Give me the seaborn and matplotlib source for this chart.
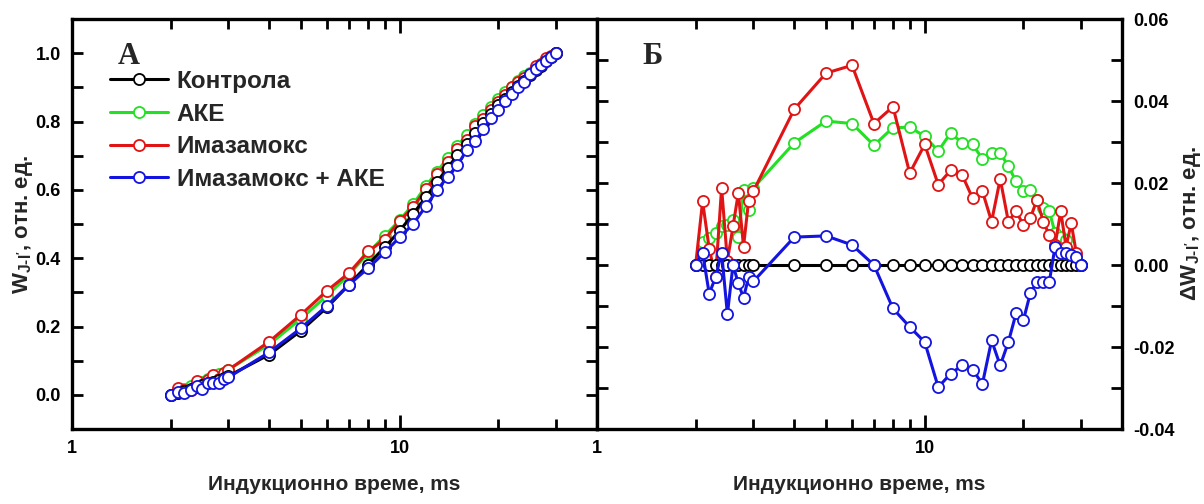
import numpy as np
import pandas as pd
import matplotlib
matplotlib.use("Agg")
import matplotlib.pyplot as plt
import seaborn as sns
from matplotlib.ticker import FixedLocator, FixedFormatter, NullFormatter, MultipleLocator, FormatStrFormatter

# Induction time, ms
time_ms = [2.0, 2.1, 2.2, 2.3, 2.4, 2.5, 2.6, 2.7, 2.8, 2.9, 3.0,
           4, 5, 6, 7, 8, 9, 10, 11, 12, 13, 14, 15, 16, 17, 18, 19, 20,
           21, 22, 23, 24, 25, 26, 27, 28, 29, 30]

# Relative variable fluorescence W(J-I') of the control
w_control = [0.000, 0.005, 0.011, 0.018, 0.023, 0.029, 0.034, 0.039, 0.043, 0.049, 0.055,
             0.118, 0.188, 0.256, 0.322, 0.381, 0.432, 0.480, 0.530, 0.578, 0.623, 0.664,
             0.701, 0.734, 0.766, 0.796, 0.822, 0.847, 0.867, 0.885, 0.904, 0.920, 0.935,
             0.950, 0.963, 0.976, 0.988, 1.000]

# Difference to the control, dW(J-I')
dw_ake = [0.0, 0.0057, 0.0065, 0.0078, 0.0094, 0.0098, 0.0110, 0.0069, 0.0184, 0.0135, 0.0188,
          0.0298, 0.0351, 0.0345, 0.0292, 0.0335, 0.0336, 0.0314, 0.0278, 0.0322, 0.0298,
          0.0294, 0.0259, 0.0273, 0.0273, 0.0241, 0.0204, 0.0180, 0.0184, 0.0159, 0.0139,
          0.0131, 0.0078, 0.0069, 0.0061, 0.0030, 0.0020, 0.0]
dw_imaz = [0.0, 0.0155, 0.0040, -0.0030, 0.0188, 0.0010, 0.0094, 0.0176, 0.0045, 0.0155, 0.0180,
           0.0380, 0.0468, 0.0487, 0.0345, 0.0386, 0.0224, 0.0294, 0.0196, 0.0231, 0.0220,
           0.0163, 0.0180, 0.0106, 0.0210, 0.0106, 0.0131, 0.0098, 0.0114, 0.0159, 0.0106,
           0.0073, 0.0049, 0.0131, 0.0045, 0.0102, 0.0030, 0.0]
dw_mix = [0.0, 0.0030, -0.0070, -0.0030, 0.0030, -0.0120, 0.0, -0.0045, -0.0080, -0.0030, -0.0040,
          0.0068, 0.0071, 0.0049, 0.0, -0.0106, -0.0151, -0.0188, -0.0298, -0.0265, -0.0245,
          -0.0255, -0.0290, -0.0184, -0.0245, -0.0188, -0.0118, -0.0135, -0.0069, -0.0041,
          -0.0041, -0.0041, 0.0045, 0.0030, 0.0030, 0.0024, 0.0020, 0.0]

series_names = ["Контрола", "АКЕ", "Имазамокс", "Имазамокс + АКЕ"]
series_colors = ["#000000", "#22e022", "#e01414", "#1414e0"]
series_z = [4, 2, 3, 5]

wc = np.array(w_control)
dws = [wc - wc, np.array(dw_ake), np.array(dw_imaz), np.array(dw_mix)]

frames = []
for name, dw in zip(series_names, dws):
    frames.append(pd.DataFrame({"t": time_ms, "W": wc + dw, "dW": dw, "series": name}))
df = pd.concat(frames, ignore_index=True)

sns.set_theme(style="ticks")
plt.rcParams.update({
    "font.family": ["Liberation Sans", "DejaVu Sans"],
    "font.weight": "bold",
    "axes.labelweight": "bold",
    "axes.unicode_minus": False,
    "mathtext.fontset": "custom",
    "mathtext.rm": "Liberation Sans:bold",
    "mathtext.it": "Liberation Sans:bold",
    "mathtext.bf": "Liberation Sans:bold",
    "mathtext.default": "rm",
})

W, H = 1204, 504
fig = plt.figure(figsize=(W / 100, H / 100), dpi=100)
axA = fig.add_axes([72 / W, 75 / H, 525 / W, 410 / H])
axB = fig.add_axes([597 / W, 75 / H, 525 / W, 410 / H])

line_kw = dict(marker="o", markersize=8, markerfacecolor="white",
               markeredgewidth=1.3, linewidth=2.2, errorbar=None, sort=False)

for ax, ycol in [(axA, "W"), (axB, "dW")]:
    for name, col, z in zip(series_names, series_colors, series_z):
        sns.lineplot(data=df[df["series"] == name], x="t", y=ycol, ax=ax,
                     color=col, markeredgecolor=col, zorder=z, label=name,
                     legend=False, **line_kw)


def style_axes(ax):
    ax.set_xscale("log")
    ax.set_xlim(1, 40)
    ax.xaxis.set_major_locator(FixedLocator([1, 10]))
    ax.xaxis.set_major_formatter(FixedFormatter(["1", "10"]))
    ax.xaxis.set_minor_locator(FixedLocator([2, 3, 4, 5, 6, 7, 8, 9, 20, 30]))
    ax.xaxis.set_minor_formatter(NullFormatter())
    ax.tick_params(axis="both", which="both", direction="in", top=True, bottom=True,
                   left=True, right=True, width=2, labelsize=13, pad=8, colors="black")
    ax.tick_params(axis="x", which="major", length=10)
    ax.tick_params(axis="x", which="minor", length=7)
    ax.tick_params(axis="y", which="both", length=8)
    for s in ax.spines.values():
        s.set_linewidth(2.4)
        s.set_color("black")
    ax.grid(False)
    ax.set_xlabel("Индукционно време, ms", fontsize=15)
    ax.xaxis.set_label_coords(0.5, -0.112)


style_axes(axA)
axA.set_ylim(-0.1, 1.1)
axA.yaxis.set_major_locator(MultipleLocator(0.2))
axA.yaxis.set_minor_locator(MultipleLocator(0.1))
axA.yaxis.set_major_formatter(FormatStrFormatter("%.1f"))
axA.set_ylabel(r"W$_{\mathrm{J\text{-}I'}}$, отн. ед.", fontsize=16)
axA.yaxis.set_label_coords(-0.07, 0.5)

style_axes(axB)
axB.set_ylim(-0.04, 0.06)
axB.yaxis.set_major_locator(MultipleLocator(0.02))
axB.yaxis.set_minor_locator(MultipleLocator(0.01))
axB.yaxis.set_major_formatter(FormatStrFormatter("%.2f"))
axB.tick_params(axis="y", labelleft=False, labelright=True)
axB.yaxis.set_label_position("right")
axB.set_ylabel(r"ΔW$_{\mathrm{J\text{-}I'}}$, отн. ед.", fontsize=16)
axB.yaxis.set_label_coords(1.108, 0.5)

for ax in (axA, axB):
    for lab in ax.get_xticklabels() + ax.get_yticklabels():
        lab.set_fontweight("bold")

handles = axA.get_lines()[:4]
axA.legend(handles, series_names, loc="upper left", bbox_to_anchor=(0.072, 0.876),
           frameon=False, prop={"weight": "bold", "size": 17.5}, handlelength=2.4,
           handletextpad=0.35, labelspacing=0.4, borderpad=0, borderaxespad=0)

axA.text(0.088, 0.945, "А", transform=axA.transAxes, fontsize=22, fontweight="bold",
         family="Liberation Serif", va="top", ha="left")
axB.text(0.086, 0.945, "Б", transform=axB.transAxes, fontsize=22, fontweight="bold",
         family="Liberation Serif", va="top", ha="left")

fig.savefig("out.png", dpi=100)
